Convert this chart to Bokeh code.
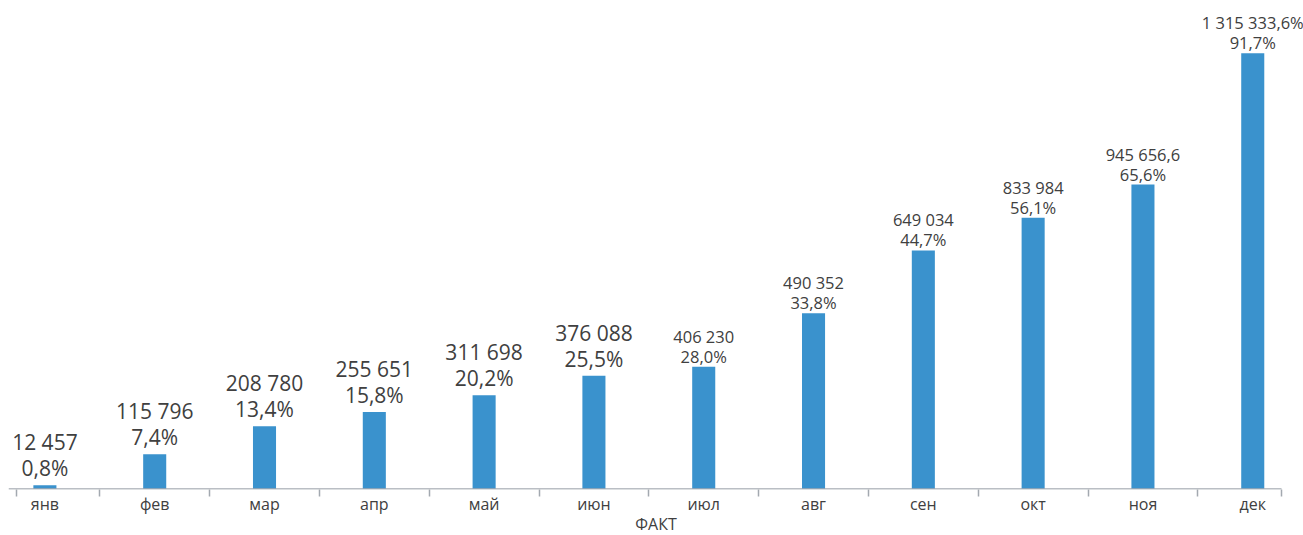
from bokeh.plotting import figure
from bokeh.models import Range1d, FixedTicker, ColumnDataSource
from bokeh.core.properties import value
from bokeh.embed import file_html
from bokeh.resources import INLINE

months = ["янв", "фев", "мар", "апр", "май", "июн", "июл", "авг", "сен", "окт", "ноя", "дек"]
bar_values = [12457, 115796, 208780, 255651, 311698, 376088, 406230, 584000, 792000, 901000, 1011000, 1447000]
label_values = ["12 457", "115 796", "208 780", "255 651", "311 698", "376 088",
                "406 230", "490 352", "649 034", "833 984", "945 656,6", "1 315 333,6%"]
label_pcts = ["0,8%", "7,4%", "13,4%", "15,8%", "20,2%", "25,5%",
              "28,0%", "33,8%", "44,7%", "56,1%", "65,6%", "91,7%"]
axis_title = "ФАКТ"

FONT = "Open Sans"
TXT = "#404040"
BAR = "#3A92CD"
AXC = "#A3A9B0"

xs = list(range(len(months)))
n_big = 6

p = figure(
    frame_width=1295, frame_height=481,
    x_range=Range1d(-0.3315, 11.4622),
    y_range=Range1d(-1650, 1595600),
    output_backend="svg", toolbar_location=None,
    min_border_left=8, min_border_right=0, min_border_top=8, min_border_bottom=0,
    y_axis_location=None,
)
p.outline_line_color = None
p.background_fill_color = "white"
p.border_fill_color = "white"
p.xgrid.visible = False
p.ygrid.visible = False

src = ColumnDataSource(dict(x=xs, top=bar_values))
p.vbar(x="x", top="top", bottom=0, width=0.21, source=src, fill_color=BAR, line_color=None)

# axis line (ends at the last category boundary)
p.segment(x0=[-0.3315], x1=[11.262], y0=[0], y1=[0], line_color=AXC, line_width=1.5)

big = ColumnDataSource(dict(x=xs[:n_big], y=bar_values[:n_big], v=label_values[:n_big], pc=label_pcts[:n_big]))
small = ColumnDataSource(dict(x=xs[n_big:], y=bar_values[n_big:], v=label_values[n_big:], pc=label_pcts[n_big:]))

for s, fs, o1, o2 in [(big, "21px", -43, -17), (small, "16.5px", -30.5, -10.5)]:
    p.text(x="x", y="y", text="v", source=s, y_offset=o1, text_align="center", text_baseline="middle",
           text_font=value(FONT), text_font_size=fs, text_color=TXT)
    p.text(x="x", y="y", text="pc", source=s, y_offset=o2, text_align="center", text_baseline="middle",
           text_font=value(FONT), text_font_size=fs, text_color=TXT)

boundaries = [-0.2587] + [i + 0.5 for i in range(11)] + [11.262]
ax = p.xaxis[0]
ax.ticker = FixedTicker(ticks=xs, minor_ticks=boundaries)
ax.major_label_overrides = {i: m for i, m in enumerate(months)}
ax.axis_line_color = None
ax.major_tick_line_color = None
ax.major_tick_out = 0
ax.major_tick_in = 0
ax.minor_tick_line_color = AXC
ax.minor_tick_line_width = 1.5
ax.minor_tick_out = 7
ax.minor_tick_in = 0
ax.major_label_standoff = -4
ax.major_label_text_font = FONT
ax.major_label_text_font_size = "16px"
ax.major_label_text_color = TXT
ax.axis_label = axis_title
ax.axis_label_text_font = FONT
ax.axis_label_text_font_size = "16px"
ax.axis_label_text_font_style = "normal"
ax.axis_label_text_color = TXT
ax.axis_label_standoff = -5

open("out.html", "w").write(file_html(p, INLINE))
